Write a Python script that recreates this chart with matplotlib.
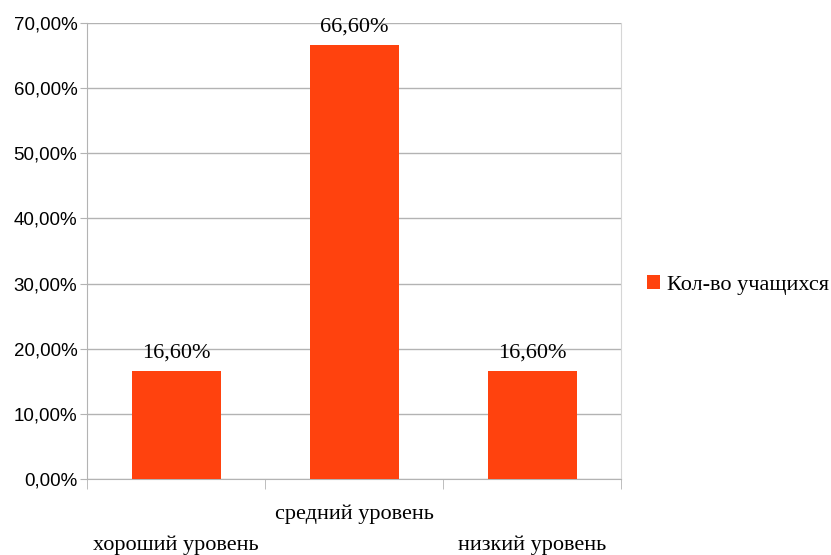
import matplotlib.pyplot as plt
from matplotlib.ticker import FuncFormatter, FixedLocator

# --- Data ---
categories = ['хороший уровень', 'средний уровень', 'низкий уровень']
values = [16.6, 66.6, 16.6]
series_name = 'Кол-во учащихся'
label_rows = [1, 0, 1]  # staggered x labels

BAR_COLOR = '#ff420e'
GRID_COLOR = '#b3b3b3'
SERIF = ['Liberation Serif', 'DejaVu Serif']
SANS = ['Liberation Sans', 'DejaVu Sans']

fig = plt.figure(figsize=(8.31, 5.55), dpi=100)
ax = fig.add_axes([87 / 831, 76 / 555, 534 / 831, 456 / 555])

x = list(range(len(categories)))
bars = ax.bar(x, values, width=0.5, color=BAR_COLOR, label=series_name, zorder=3)

ax.set_xlim(-0.5, len(categories) - 0.5)
ax.set_ylim(0, 70)
ax.set_yticks(range(0, 71, 10))
ax.yaxis.set_major_formatter(FuncFormatter(lambda v, p: f'{v:.2f}'.replace('.', ',') + '%'))
ax.grid(axis='y', color=GRID_COLOR, linewidth=1, zorder=0)

for lab in ax.get_yticklabels():
    lab.set_family(SANS)
    lab.set_fontsize(13.5)
ax.tick_params(axis='y', length=5, color=GRID_COLOR, pad=2)

# category boundaries as ticks, no labels on them
ax.set_xticks([])
ax.xaxis.set_minor_locator(FixedLocator([i - 0.5 for i in range(len(categories) + 1)]))
ax.tick_params(axis='x', which='minor', length=7, color=GRID_COLOR)

ax.spines['top'].set_visible(False)
ax.spines['left'].set_color(GRID_COLOR)
ax.spines['bottom'].set_color(GRID_COLOR)
ax.spines['right'].set_color('#d6d6d6')

# staggered category labels
for xi, name, row in zip(x, categories, label_rows):
    ax.text(xi, -0.077 - 0.068 * row, name, transform=ax.get_xaxis_transform(),
            ha='center', va='center', fontsize=16, family=SERIF)

ax.bar_label(bars, labels=[f'{v:.2f}'.replace('.', ',') + '%' for v in values],
             padding=6, fontsize=16, family=SERIF)

fig.legend(handles=[bars], labels=[series_name], loc='center left',
           bbox_to_anchor=(638 / 831, 1 - 285 / 555), frameon=False,
           handlelength=0.6, handleheight=0.6, handletextpad=0.3,
           borderaxespad=0, prop={'family': SERIF, 'size': 16})

fig.savefig('out.png', dpi=100)
